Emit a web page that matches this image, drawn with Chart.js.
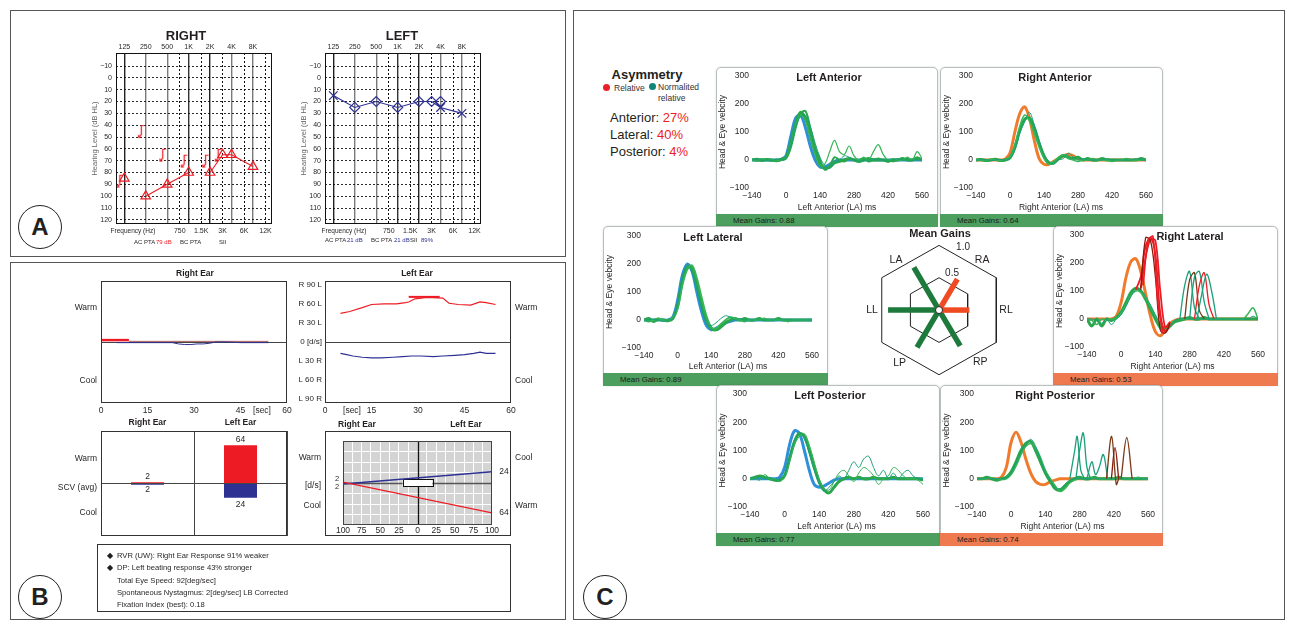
<!DOCTYPE html>
<html><head><meta charset="utf-8"><title>Audiometry, caloric and vHIT report</title>
<script src="https://cdn.jsdelivr.net/npm/chart.js@4.4.1/dist/chart.umd.min.js"></script>
<style>
html,body{margin:0;padding:0;background:#fff;}
body{position:relative;width:1290px;height:622px;overflow:hidden;font-family:'Liberation Sans',Arial,sans-serif;color:#231f20;}
.panel{position:absolute;border:1px solid #555;box-sizing:border-box;}
.circ{position:absolute;width:44px;height:44px;border:1.2px solid #222;border-radius:50%;box-sizing:border-box;font-weight:bold;font-size:24px;text-align:center;line-height:42px;}
.t{position:absolute;white-space:pre;line-height:1;}
canvas{position:absolute;}
.box{position:absolute;border:1px solid #b9bfbf;border-radius:5px;box-sizing:border-box;background:#fff;box-shadow:0 0 2px rgba(0,0,0,0.18);}
.gbar{position:absolute;height:13px;font-size:7.8px;line-height:13px;box-sizing:border-box;padding-left:17px;color:#1a1a1a;}
.frame{position:absolute;border:1px solid #333;box-sizing:border-box;}
.dot{position:absolute;width:7px;height:7px;border-radius:50%;}
</style></head><body>
<script>
const FONT="'Liberation Sans', Arial, sans-serif";

// ================= DATA =================
// --- Panel A: audiograms ---
const freqMain=[125,250,500,1000,2000,4000,8000];
const freqMainLabels=['125','250','500','1K','2K','4K','8K'];
const freqHalf=[750,1500,3000,6000,12000];
const freqHalfLabels=['750','1.5K','3K','6K','12K'];
const dbTicks=[-10,0,10,20,30,40,50,60,70,80,90,100,110,120];
const rightAcFreq=[125,250,500,1000,2000,3000,4000,8000];
const rightAcDb=[85,100,90,80,80,65,65,75];
const rightAcBreaks=[0,3];           // segments not connected (after point index)
const rightBcFreq=[125,250,500,1000,2000,3000];
const rightBcDb=[87,45,65,70,70,65];
const leftAcFreq=[125,250,500,1000,2000,3000,4000,8000];
const leftAcDb=[15,25,20,25,20,20,25,30];
const leftBcFreq=[250,500,1000,2000,3000,4000];
const leftBcDb=[25,20,25,20,20,20];
const rightPta={ac:'79 dB',bc:'',sii:''};
const leftPta={ac:'21 dB',bc:'21 dB',sii:'89%'};

// --- Panel B: caloric test ---
const calTimeTicks=[0,15,30,45,60];
const calVelTicks=[90,60,30,0,-30,-60,-90];
const calVelLabels=['R 90 L','R 60 L','R 30 L','0 [d/s]','L 30 R','L 60 R','L 90 R'];
const rightEarWarmT=[0,3,6,9];
const rightEarWarmV=[3,3,3,3];
const rightEarWarmTailT=[9,20,30,40,54];
const rightEarWarmTailV=[1,1,1,1,1];
const rightEarCoolT=[5,8,12,16,20,23,25,27,29,31,33,35,37,40,45,50,54];
const rightEarCoolV=[-1,-1,-1,-1,-1,-1,-3,-4,-4,-3,-3,-2,0,0,-1,-1,-1];
const leftEarWarmT=[5,8,12,15,19,23,26,27,29,33,38,40,43,47,50,52,55];
const leftEarWarmV=[45,48,54,59,60,60,62,63,68,70,69,61,59,58,63,62,59];
const leftEarWarmPeakT=[27,37];
const leftEarWarmPeakV=[71,71];
const leftEarCoolT=[5,7,9,12,15,18,22,25,28,31,35,38,42,45,48,50,52,55];
const leftEarCoolV=[-18,-20,-22,-24,-25,-25,-24,-23,-22,-22,-23,-22,-21,-20,-18,-16,-18,-18];
const calEars=['Right Ear','Left Ear'];
const calWarm=[2,64];
const calCool=[2,24];
const butterflyTicks=[-100,-75,-50,-25,0,25,50,75,100];
const normalBoxX=[-20,20];
const normalBoxY=[-8,8];
const calSummary=[
 {bullet:true,text:'RVR (UW): Right Ear Response 91% weaker'},
 {bullet:true,text:'DP: Left beating response 43% stronger'},
 {bullet:false,text:'Total Eye Speed: 92[deg/sec]'},
 {bullet:false,text:'Spontaneous Nystagmus: 2[deg/sec] LB Corrected'},
 {bullet:false,text:'Fixation Index (best): 0.18'}];

// --- Panel C: vHIT ---
const asymLabels=['Anterior','Lateral','Posterior'];
const asymValues=[27,40,4];
const meanGainLabels=['LA','RA','RL','RP','LP','LL'];
const meanGainValues=[0.88,0.64,0.53,0.74,0.77,0.89];
const gainRings=[0.5,1.0];
const vhitXTicks=[-140,0,140,280,420,560];
const vhitYTicks=[-100,0,100,200,300];
const vhitT=[-140,-120,-100,-80,-60,-40,-20,0,20,40,60,80,100,120,140,160,180,200,220,240,260,280,300,320,340,360,380,400,420,440,460,480,500,520,540,560];
// Left Anterior
const laHead=[0,0,0,0,0,0,2,15,85,150,160,115,50,0,-25,-25,-15,-5,0,0,0,0,0,0,0,0,0,0,0,0,0,0,0,0,0,0];
const laEye1=[0,3,-2,2,0,-3,2,10,60,130,170,150,90,30,-15,-30,-25,-10,-5,0,5,0,-5,0,5,0,0,0,-5,0,0,5,0,0,5,0];
const laEye2=[2,-3,3,0,-2,2,0,5,45,115,165,175,115,45,0,-35,-20,10,0,-5,5,0,0,5,-5,0,5,0,0,-5,0,0,5,0,10,0];
const laEye3=[0,0,4,-3,2,0,-2,8,55,125,160,140,80,20,-20,-15,30,70,30,20,50,15,0,10,0,30,55,20,0,5,0,0,10,0,30,5];
const laEye4=[0,2,0,-2,0,2,0,6,50,120,155,160,120,60,10,-20,-30,-10,0,15,10,0,-5,0,0,5,0,0,0,0,5,0,0,0,0,0];
// Right Anterior
const raHead=[0,0,0,0,0,0,3,25,100,165,190,150,70,5,-15,-15,-5,5,15,20,15,5,0,0,0,0,0,0,0,0,0,0,0,0,0,0];
const raEye1=[0,2,-2,0,3,-2,0,8,45,105,145,150,115,60,15,-10,-10,5,15,10,5,10,0,5,0,0,5,0,0,0,0,0,0,0,5,0];
const raEye2=[3,-2,0,2,0,-3,2,10,55,120,160,140,95,45,5,-15,-5,10,20,5,0,-5,0,0,5,0,0,0,-5,0,0,5,0,0,0,0];
const raEye3=[0,0,2,-2,0,2,0,5,35,95,135,170,125,70,20,-5,-15,0,5,25,10,0,5,0,0,0,0,5,0,0,0,0,0,5,0,0];
// Left Lateral
const llHead=[0,0,0,0,0,0,10,70,160,200,175,100,30,-20,-35,-30,-20,-10,-5,0,0,0,0,0,0,0,0,0,0,0,0,0,0,0,0,0];
const llEye1=[0,5,-5,3,0,-3,5,50,140,190,185,130,60,0,-30,-35,-25,-10,0,5,0,5,0,0,5,0,0,0,5,0,0,0,0,0,0,0];
const llEye2=[0,-5,0,5,-2,0,8,40,125,180,195,150,80,15,-25,-30,-15,0,10,5,0,-5,0,0,0,5,0,0,0,0,-5,0,0,0,0,0];
const llEye3=[0,0,3,0,-5,0,5,55,150,195,170,110,40,-10,-20,-10,5,15,10,0,5,0,0,0,0,0,0,0,0,0,0,0,0,0,0,0];
// Right Lateral
const rlHead=[0,0,0,0,0,0,10,60,150,205,215,170,90,10,-45,-60,-40,-15,-5,0,0,0,0,0,0,0,0,0,0,0,0,0,0,0,0,0];
const rlEye1=[0,-25,0,-25,0,-5,5,25,60,95,110,100,70,35,0,-30,-40,-25,-10,-5,0,5,0,0,5,0,0,0,0,0,0,0,0,0,0,0];
const rlEye2=[0,-5,-20,0,-5,0,3,20,50,85,100,95,75,45,10,-20,-35,-20,-5,0,0,0,0,0,0,0,0,0,0,0,0,0,0,20,40,0];
const rlEye3=[0,0,-5,-15,0,-20,0,15,45,80,105,105,80,50,15,-15,-30,-20,-5,0,5,0,0,0,0,0,0,0,0,0,0,0,0,0,10,0];
const rlSacA=[[60,105],[80,150],[100,260],[120,290],[140,230],[160,20],[180,-45],[200,-20]];
const rlSacB=[[80,110],[100,220],[120,285],[140,280],[160,100],[180,-30],[200,-10]];
const rlSacC=[[80,105],[100,290],[120,280],[140,150],[160,-40],[180,-50],[200,-15]];
const rlSacD=[[90,120],[110,280],[130,295],[150,60],[170,-50]];
const rlSac2A=[[240,0],[260,120],[280,170],[300,40],[320,0]];
const rlSac2B=[[260,0],[280,140],[300,165],[320,30],[340,0]];
const rlSac2C=[[280,0],[300,150],[320,170],[340,60],[360,0]];
const rlSac2D=[[300,0],[320,120],[340,165],[360,50],[380,0]];
const rlSac2E=[[310,0],[330,90],[350,160],[370,100],[390,0]];
// Left Posterior
const lpHead=[0,0,0,0,0,0,5,40,120,170,160,100,30,-20,-30,-25,-15,-5,0,0,0,0,0,0,0,0,0,0,0,0,0,0,0,0,0,0];
const lpEye1=[0,5,10,5,0,-5,-5,10,70,130,160,150,100,40,-10,-40,-50,-30,-10,0,5,0,5,0,0,5,0,0,0,5,0,0,0,0,0,-5];
const lpEye2=[0,0,-5,15,0,0,-10,5,60,120,150,160,120,60,0,-35,-40,-10,20,30,10,-10,20,40,30,10,-20,0,10,40,30,10,0,0,-5,-20];
const lpEye3=[5,0,5,0,5,-5,0,15,80,140,165,140,90,30,-20,-45,-30,-10,10,0,30,60,40,70,80,40,10,30,0,20,0,20,30,10,0,0];
// Right Posterior
const rpHead=[0,0,0,0,0,5,40,130,165,130,70,20,-10,-20,-20,-10,-5,0,0,0,0,0,0,0,0,0,0,0,0,0,0,0,0,0,0,0];
const rpEye1=[0,0,5,0,-5,0,5,25,60,100,125,132,100,60,20,-10,-35,-40,-25,-10,0,5,0,0,5,0,0,0,0,5,0,0,0,0,0,0];
const rpEye2=[2,-2,0,3,0,-3,0,15,45,85,115,125,110,75,30,0,-25,-45,-35,-15,-5,0,0,5,0,0,0,0,0,0,0,0,0,5,0,0];
const rpEye3=[0,0,0,0,0,0,3,20,55,95,120,140,115,70,25,-5,-30,-35,-20,-5,0,0,0,0,0,0,0,0,0,0,0,0,0,0,0,0];
const rpSacA=[[240,0],[260,100],[270,150],[285,30],[300,0]];
const rpSacB=[[265,0],[280,100],[295,162],[310,40],[325,0]];
const rpSacC=[[310,0],[330,60],[345,15],[360,40],[377,86],[395,0]];
const rpSacD=[[390,0],[411,150],[430,-20],[440,0]];
const rpSacE=[[410,0],[425,110],[440,0]];
const rpSacF=[[450,0],[473,146],[495,0]];

// ================= HELPERS =================
Chart.defaults.font.family=FONT;
Chart.defaults.color='#231f20';
Chart.defaults.animation=false;
Chart.defaults.responsive=false;
Chart.defaults.events=[];
Chart.defaults.plugins.legend.display=false;
Chart.defaults.plugins.tooltip.enabled=false;

const RED='#ed1c24', NAVY='#2e3192';
function mk(x,y,w,h,cfg){const c=document.createElement('canvas');c.width=w;c.height=h;c.style.left=x+'px';c.style.top=y+'px';c.style.width=w+'px';c.style.height=h+'px';document.body.appendChild(c);cfg.options=cfg.options||{};cfg.options.devicePixelRatio=1;return new Chart(c,cfg);}
function T(text,x,y,o={}){const d=document.createElement('div');d.className='t';d.textContent=text;const s=d.style;s.fontSize=(o.size||9)+'px';if(o.bold)s.fontWeight='bold';s.color=o.color||'#231f20';s.left=x+'px';s.top=y+'px';const a=o.a||'c';let tr=a==='c'?'translate(-50%,-50%)':(a==='l'?'translate(0,-50%)':'translate(-100%,-50%)');if(o.rot)tr+=' rotate('+o.rot+'deg)';s.transform=tr;document.body.appendChild(d);return d;}
function div(cls,x,y,w,h,extra){const d=document.createElement('div');d.className=cls;Object.assign(d.style,{left:x+'px',top:y+'px',width:w+'px',height:h+'px'},extra||{});document.body.appendChild(d);return d;}
function pts(xs,ys){return xs.map((v,i)=>({x:v,y:ys[i]}));}
function frameP(color,width){return {id:'frame',afterDatasetsDraw(c){const r=c.chartArea,x=c.ctx;x.save();x.strokeStyle=color;x.lineWidth=width;const l=Math.round(r.left),t=Math.round(r.top);x.strokeRect(l+0.5,t+0.5,Math.round(r.right)-l-1,Math.round(r.bottom)-t-1);x.restore();}};}
function bgP(color){return {id:'bg',beforeDraw(c){const r=c.chartArea,x=c.ctx;x.save();x.fillStyle=color;x.fillRect(r.left,r.top,r.right-r.left,r.bottom-r.top);x.restore();}};}
function marksP(items){return {id:'marks',afterDatasetsDraw(c){const x=c.ctx,xs=c.scales.x,ys=c.scales.y;x.save();items.forEach(it=>{x.font=(it.bold?'bold ':'')+(it.size||9)+'px '+FONT;x.fillStyle=it.color||'#231f20';x.textAlign='center';x.textBaseline='middle';x.fillText(it.text,xs.getPixelForValue(it.x)+(it.dx||0),ys.getPixelForValue(it.y)+(it.dy||0));});x.restore();}};}
function fixedTicks(arr){return s=>{s.ticks=arr.map(v=>({value:v}));};}
const minus=v=>v<0?'\u2212'+(-v):String(v);
const NOGRID={display:false,drawTicks:false};

// ================= PANELS / FRAMES =================
div('panel',10,10,556,247);
div('panel',10,262,556,358);
div('panel',573,10,712,610);
[['A',18,205],['B',18,575],['C',583,575]].forEach(([t,x,y])=>{const d=div('circ',x,y,44,44);d.textContent=t;});

// ================= PANEL A =================
function bracketImg(color){const c=document.createElement('canvas');c.width=22;c.height=22;const g=c.getContext('2d');g.strokeStyle=color;g.lineWidth=1.2;g.beginPath();g.moveTo(9.5,5.5);g.lineTo(6.5,5.5);g.lineTo(6.5,14.5);g.lineTo(3.8,17.2);g.stroke();g.beginPath();g.moveTo(3.8,14.8);g.lineTo(3.8,17.2);g.lineTo(6.2,17.2);g.stroke();return c;}
const mainGridColors=['#222','#7a7a7a','#7a7a7a','#333','#222','#7a7a7a','#7a7a7a'];
function audioScales(){return {
 x:{type:'logarithmic',position:'top',min:95.5,max:14800,afterBuildTicks:fixedTicks(freqMain),
   ticks:{callback:(v,i)=>freqMainLabels[i],font:{size:7},color:'#231f20',padding:2,maxRotation:0,autoSkip:false},
   grid:{color:c=>mainGridColors[c.index]||'#333',lineWidth:1.4,drawTicks:false},border:{display:false},afterFit:s=>{s.height=13;}},
 x2:{type:'logarithmic',position:'bottom',min:95.5,max:14800,afterBuildTicks:fixedTicks(freqHalf),
   ticks:{callback:(v,i)=>freqHalfLabels[i],font:{size:7},color:'#231f20',padding:3,maxRotation:0,autoSkip:false},
   grid:{color:'#111',lineWidth:1,drawTicks:false},border:{display:false,dash:[2,2]},afterFit:s=>{s.height=16;}},
 y:{min:-21,max:123.5,reverse:true,afterBuildTicks:fixedTicks(dbTicks),
   ticks:{callback:minus,font:{size:7},color:'#231f20',padding:4,autoSkip:false},
   grid:{color:'#111',lineWidth:0.9,drawTicks:false},border:{display:false,dash:[2,2]},
   title:{display:true,text:'Hearing Level (dB HL)',font:{size:7.5},color:'#666',padding:0},afterFit:s=>{s.width=26;}}};}
// RIGHT
mk(70,40,215,200,{type:'scatter',data:{datasets:[
 {data:pts(rightAcFreq,rightAcDb),showLine:true,borderColor:RED,borderWidth:1.1,pointStyle:'triangle',pointRadius:5.5,pointBorderColor:RED,pointBackgroundColor:'rgba(255,255,255,0)',pointBorderWidth:1.2,
  segment:{borderColor:c=>rightAcBreaks.includes(c.p0DataIndex)?'rgba(0,0,0,0)':RED}},
 {data:pts(rightBcFreq,rightBcDb),showLine:false,pointStyle:bracketImg(RED),pointRadius:8}]},
 options:{layout:{padding:{left:20,right:13,top:0,bottom:0}},scales:audioScales()},plugins:[frameP('#111',1)]});
// LEFT
mk(279,40,215,200,{type:'scatter',data:{datasets:[
 {data:pts(leftBcFreq,leftBcDb),showLine:false,pointStyle:'rectRot',pointRadius:5,pointBorderColor:NAVY,pointBackgroundColor:'rgba(255,255,255,0)',pointBorderWidth:1.2},
 {data:pts(leftAcFreq,leftAcDb),showLine:true,borderColor:NAVY,borderWidth:1.1,pointStyle:'crossRot',pointRadius:leftAcFreq.map(f=>leftBcFreq.includes(f)&&f<4000?0:6),pointBorderColor:NAVY,pointBorderWidth:1.3}]},
 options:{layout:{padding:{left:20,right:13,top:0,bottom:0}},scales:audioScales()},plugins:[frameP('#111',1)]});
T('RIGHT',186,35,{size:13,bold:true});
T('LEFT',402,35,{size:13,bold:true});
T('Frequency (Hz)',133,231,{size:6.5});
T('Frequency (Hz)',344,231,{size:6.5});
function ptaLine(x0,y,p,col){T('AC PTA',x0,y,{size:6,a:'l'});if(p.ac)T(p.ac,x0+22,y,{size:6,a:'l',color:col});T('BC PTA',x0+46,y,{size:6,a:'l'});if(p.bc)T(p.bc,x0+69,y,{size:6,a:'l',color:col});T('SII',x0+85,y,{size:6,a:'l'});if(p.sii)T(p.sii,x0+96,y,{size:6,a:'l',color:col});}
ptaLine(134,242,rightPta,RED);
ptaLine(325,240,leftPta,NAVY);

// ================= PANEL B =================
function L(ts,vs,color,w){return {data:pts(ts,vs),showLine:true,borderColor:color,borderWidth:w,pointRadius:0,tension:0};}
const zeroGrid=c=>(c.tick&&c.tick.value===0)?'#444':'rgba(0,0,0,0)';
// Right ear time course
mk(95,268,200,150,{type:'scatter',data:{datasets:[
 L(rightEarWarmT,rightEarWarmV,RED,2.5),L(rightEarCoolT,rightEarCoolV,NAVY,1),L(rightEarWarmTailT,rightEarWarmTailV,'#a85a55',1)]},
 options:{layout:{padding:{left:6,right:8,top:13,bottom:0}},scales:{
  x:{min:0,max:60,afterBuildTicks:fixedTicks(calTimeTicks),ticks:{font:{size:8.5},color:'#231f20',padding:3,maxRotation:0,autoSkip:false},grid:NOGRID,border:{display:false},afterFit:s=>{s.height=15;}},
  y:{min:-96,max:96,afterBuildTicks:fixedTicks([0]),ticks:{display:false},grid:{color:zeroGrid,drawTicks:false},border:{display:false},afterFit:s=>{s.width=0;}}}},
 plugins:[frameP('#333',1)]});
// Left ear time course
mk(285,268,235,150,{type:'scatter',data:{datasets:[
 L(leftEarWarmPeakT,leftEarWarmPeakV,RED,2),L(leftEarWarmT,leftEarWarmV,RED,1.2),L(leftEarCoolT,leftEarCoolV,NAVY,1.2)]},
 options:{layout:{padding:{left:0,right:9,top:13,bottom:0}},scales:{
  x:{min:0,max:60,afterBuildTicks:fixedTicks(calTimeTicks),ticks:{font:{size:8.5},color:'#231f20',padding:3,maxRotation:0,autoSkip:false},grid:NOGRID,border:{display:false},afterFit:s=>{s.height=15;}},
  y:{min:-96,max:96,afterBuildTicks:fixedTicks(calVelTicks),ticks:{callback:(v,i)=>calVelLabels[i],font:{size:8},color:'#231f20',padding:3,autoSkip:false},grid:{color:zeroGrid,drawTicks:false},border:{display:false},afterFit:s=>{s.width=40;}}}},
 plugins:[frameP('#333',1)]});
T('Right Ear',195,273,{size:8.5,bold:true});
T('Left Ear',417,273,{size:8.5,bold:true});
T('[sec]',262,410,{size:8.5});
T('[sec]',352,410,{size:8.5});
T('Warm',97,307,{size:8.5,a:'r'});T('Cool',97,380,{size:8.5,a:'r'});
T('Warm',515,307,{size:8.5,a:'l'});T('Cool',515,380,{size:8.5,a:'l'});

// SCV bar chart
mk(95,415,200,128,{type:'bar',data:{labels:calEars,datasets:[
 {data:calWarm,backgroundColor:RED,barPercentage:0.355,categoryPercentage:1},
 {data:calCool.map(v=>-v),backgroundColor:NAVY,barPercentage:0.355,categoryPercentage:1}]},
 options:{layout:{padding:{left:6,right:8,top:0,bottom:7}},scales:{
  x:{position:'top',stacked:true,ticks:{font:{size:8.5,weight:'bold'},color:'#231f20',padding:3},grid:{offset:true,color:'#444',drawTicks:false},border:{display:false},afterFit:s=>{s.height=16;}},
  y:{stacked:true,min:-88,max:88,afterBuildTicks:fixedTicks([0]),ticks:{display:false},grid:{color:zeroGrid,drawTicks:false},border:{display:false},afterFit:s=>{s.width=0;}}}},
 plugins:[frameP('#333',1),marksP([
  {x:0,y:calWarm[0],text:String(calWarm[0]),dy:-6,size:8.5},
  {x:0,y:-calCool[0],text:String(calCool[0]),dy:5,size:8.5},
  {x:1,y:calWarm[1],text:String(calWarm[1]),dy:-6,size:8.5},
  {x:1,y:-calCool[1],text:String(calCool[1]),dy:7,size:8.5}])]});
T('Warm',97,458,{size:8.5,a:'r'});T('SCV (avg)',97,487,{size:8.5,a:'r'});T('Cool',97,512,{size:8.5,a:'r'});

// Butterfly chart
div('frame',325,431,186,105);
const bfGrid=[];butterflyTicks.forEach((v,i)=>{bfGrid.push(v);if(i<butterflyTicks.length-1)bfGrid.push((v+butterflyTicks[i+1])/2);});
const bfYGrid=[];for(let i=0;i<=8;i++)bfYGrid.push(-90+i*22.5);
const notZero=c=>(c.tick&&c.tick.value===0)?'rgba(0,0,0,0)':'#fff';
mk(326,432,184,103,{type:'scatter',data:{datasets:[
 {data:[{x:-100,y:calWarm[0]},{x:100,y:-calWarm[1]}],showLine:true,borderColor:RED,borderWidth:1.4,pointRadius:0},
 {data:[{x:-100,y:-calCool[0]},{x:100,y:calCool[1]}],showLine:true,borderColor:NAVY,borderWidth:1.4,pointRadius:0}]},
 options:{layout:{padding:{left:17,right:18,top:9,bottom:0}},scales:{
  x:{min:-100,max:100,afterBuildTicks:fixedTicks(bfGrid),ticks:{callback:v=>butterflyTicks.includes(v)?String(Math.abs(v)):'',font:{size:8.5},color:'#231f20',padding:1,maxRotation:0,autoSkip:false},
   grid:{color:notZero,lineWidth:1,drawTicks:false},border:{display:false},afterFit:s=>{s.height=10;}},
  y:{min:-90,max:90,afterBuildTicks:fixedTicks(bfYGrid),ticks:{display:false},grid:{color:notZero,lineWidth:1,drawTicks:false},border:{display:false},afterFit:s=>{s.width=0;}}}},
 plugins:[bgP('#d4d4d4'),
  {id:'axes0',beforeDatasetsDraw(c){const xs=c.scales.x,ys=c.scales.y,x=c.ctx,a=c.chartArea;const px=Math.round(xs.getPixelForValue(0))+0.5,py=Math.round(ys.getPixelForValue(0))+0.5;x.save();x.lineWidth=1.3;x.strokeStyle='#555';x.beginPath();x.moveTo(a.left,py);x.lineTo(a.right,py);x.stroke();x.strokeStyle='#111';x.beginPath();x.moveTo(px,a.top);x.lineTo(px,a.bottom);x.stroke();x.restore();}},
  {id:'normbox',beforeDatasetsDraw(c){const xs=c.scales.x,ys=c.scales.y,x=c.ctx;const l=xs.getPixelForValue(normalBoxX[0]),r=xs.getPixelForValue(normalBoxX[1]),t=ys.getPixelForValue(normalBoxY[1]),b=ys.getPixelForValue(normalBoxY[0]);x.save();x.fillStyle='#fff';x.fillRect(l,t,r-l,b-t);x.strokeStyle='#111';x.lineWidth=1;x.strokeRect(Math.round(l)+0.5,Math.round(t)+0.5,Math.round(r-l),Math.round(b-t));x.restore();}},
  frameP('#444',1),
  marksP([{x:-100,y:calWarm[0],text:String(calWarm[0]),dx:-6,dy:-3,size:7.5},{x:-100,y:-calCool[0],text:String(calCool[0]),dx:-6,dy:3,size:7.5},
   {x:100,y:calCool[1],text:String(calCool[1]),dx:12,size:8.5},{x:100,y:-calWarm[1],text:String(calWarm[1]),dx:12,size:8.5}])]});
T('Right Ear',357,424,{size:8.5,bold:true});T('Left Ear',466,424,{size:8.5,bold:true});
T('Warm',321,457,{size:8.5,a:'r'});T('[d/s]',321,485,{size:8.5,a:'r'});T('Cool',321,505,{size:8.5,a:'r'});
T('Cool',515,457,{size:8.5,a:'l'});T('Warm',515,505,{size:8.5,a:'l'});

// Summary text
div('frame',97,544,414,68);
calSummary.forEach((r,i)=>{const y=556+i*12.3;if(r.bullet)T('\u25C6',110,y,{size:7.5});T(r.text,117,y,{size:7.6,a:'l'});});

// ================= PANEL C =================
T('Asymmetry',647,74,{size:13,bold:true});
div('dot',603,84,7,7,{background:'#e8202a'});T('Relative',614,88,{size:8.5,a:'l',color:'#333'});
div('dot',649,83,7,7,{background:'#11857a'});T('Normalited',658,87,{size:8.5,a:'l',color:'#333'});T('relative',658,98,{size:8.5,a:'l',color:'#333'});
asymLabels.forEach((lab,i)=>{const y=117+i*17;const d=T(lab+': ',610,y,{size:13,a:'l'});const w=d.getBoundingClientRect().width;T(asymValues[i]+'%',610+w,y,{size:13,a:'l',color:RED});});

const GREEN='#2aa64c',GREEN2='#35b556',TEAL='#1aa07a',BLUE='#2f8fd8',ORANGE='#f07b2c',DRED='#8a1a0a',BROWN='#7b3a16';
function tr(vals,color,w){return {pts:pts(vhitT,vals),color,w};}
function sac(pairs,color,w){return {pts:pairs.map(p=>({x:p[0],y:p[1]})),color,w:w||1.3};}
function vhit(box,area,title,titleX,xTitle,traces,gainIdx,barColor){
 const [bl,bt,bw,bh]=box;const ch=bh-13;
 div('box',bl,bt,bw,bh);
 mk(bl,bt,bw,ch,{type:'scatter',data:{datasets:traces.map(t=>({data:t.pts,borderColor:t.color,borderWidth:t.w,showLine:true,pointRadius:0,tension:0.35}))},
  options:{layout:{padding:{left:2,top:area[2],right:bw-area[1],bottom:0}},scales:{
   x:{type:'linear',min:-140,max:560,afterBuildTicks:fixedTicks(vhitXTicks),ticks:{callback:minus,font:{size:8.5},color:'#231f20',padding:3,maxRotation:0,autoSkip:false},grid:NOGRID,border:{display:false},
      title:{display:true,text:xTitle,font:{size:8.5},color:'#231f20',padding:{top:0,bottom:1}},afterFit:s=>{s.height=ch-area[3];}},
   y:{min:-100,max:300,afterBuildTicks:fixedTicks(vhitYTicks),ticks:{callback:minus,font:{size:8.5},color:'#231f20',padding:3,autoSkip:false},grid:NOGRID,border:{display:false},
      title:{display:true,text:'Head & Eye vebcity',font:{size:8.5},color:'#231f20',padding:0},afterFit:s=>{s.width=area[0]-2;}}}}});
 T(title,titleX,bt+area[2]+1,{size:11,bold:true});
 const g=div('gbar',bl,bt+bh-13,bw,13,{background:barColor});g.textContent='Mean Gains: '+meanGainValues[gainIdx].toFixed(2);
}
const GBAR='#4c9f5e',OBAR='#f07a4f';
vhit([716,67,222,160],[36,206,9,121],'Left Anterior',829,'Left Anterior (LA) ms',
 [tr(laEye4,TEAL,1),tr(laEye3,GREEN2,1.2),tr(laEye2,GREEN,2),tr(laEye1,GREEN,3),tr(laHead,BLUE,3)],0,GBAR);
vhit([940,67,223,160],[36,206,9,121],'Right Anterior',1055,'Right Anterior (LA) ms',
 [tr(raEye3,TEAL,1),tr(raEye2,GREEN2,1.5),tr(raEye1,GREEN,3),tr(raHead,ORANGE,3)],1,GBAR);
vhit([603,226,225,160],[41,209,10,122],'Left Lateral',713,'Left Anterior (LA) ms',
 [tr(llEye3,TEAL,1),tr(llEye2,GREEN2,2),tr(llEye1,GREEN,3),tr(llHead,BLUE,3)],5,GBAR);
vhit([1053,226,225,160],[34,205,9,121],'Right Lateral',1190,'Right Anterior (LA) ms',
 [sac(rlSac2E,TEAL),sac(rlSac2D,RED),sac(rlSac2C,TEAL),sac(rlSac2B,BROWN),sac(rlSac2A,TEAL),
  sac(rlSacD,RED,1.6),sac(rlSacC,DRED,1.3),sac(rlSacB,RED,1.8),sac(rlSacA,RED,1.8),
  tr(rlEye3,TEAL,1),tr(rlEye2,GREEN2,1.5),tr(rlEye1,GREEN,3),tr(rlHead,ORANGE,3)],2,OBAR);
vhit([716,385,224,161],[34,207,9,122],'Left Posterior',830,'Left Anterior (LA) ms',
 [tr(lpEye3,TEAL,1),tr(lpEye2,GREEN2,1),tr(lpEye1,GREEN,3),tr(lpHead,BLUE,3)],4,GBAR);
vhit([940,385,223,161],[37,208,9,122],'Right Posterior',1055,'Right Anterior (LA) ms',
 [sac(rpSacF,BROWN),sac(rpSacE,DRED),sac(rpSacD,BROWN),sac(rpSacC,TEAL),sac(rpSacB,TEAL),sac(rpSacA,TEAL),
  tr(rpEye3,TEAL,1),tr(rpEye2,GREEN2,1.5),tr(rpEye1,GREEN,3),tr(rpHead,ORANGE,3)],3,OBAR);

// Mean gains hexagon
T('Mean Gains',940,233,{size:11,bold:true});
const spokeAngles=[120,60,0,-60,-120,180];
const spokeColors=['#1e7a3c','#f04a23','#f04a23','#1e7a3c','#1e7a3c','#1e7a3c'];
const labelAngles=[130,50,0,-52,-126,180];
const rad=d=>d*Math.PI/180, C30=Math.cos(rad(30));
function hexPts(level){return [90,30,-30,-90,-150,150,90].map(a=>({x:level/C30*Math.cos(rad(a)),y:level/C30*Math.sin(rad(a))}));}
const hexSets=[{data:[{x:0,y:0}],showLine:false,pointRadius:3.5,pointStyle:'circle',pointBackgroundColor:'#fff',pointBorderColor:'#222',pointBorderWidth:1}];
meanGainValues.forEach((v,i)=>hexSets.push({data:[{x:0,y:0},{x:v*Math.cos(rad(spokeAngles[i])),y:v*Math.sin(rad(spokeAngles[i]))}],showLine:true,borderColor:spokeColors[i],borderWidth:5.5,borderCapStyle:'butt',pointRadius:0}));
gainRings.forEach(l=>hexSets.push({data:hexPts(l),showLine:true,borderColor:'#222',borderWidth:1,pointRadius:0}));
const hexMarks=meanGainLabels.map((lab,i)=>({x:1.17*Math.cos(rad(labelAngles[i])),y:1.17*Math.sin(rad(labelAngles[i])),text:lab,size:10.5}));
hexMarks.push({x:0,y:gainRings[1]/C30,text:gainRings[1].toFixed(1),dx:24,dy:2,size:10});
hexMarks.push({x:0,y:gainRings[0]/C30,text:gainRings[0].toFixed(1),dx:13,dy:-4,size:10});
mk(830,236,219,150,{type:'scatter',data:{datasets:hexSets},
 options:{layout:{padding:0},scales:{x:{display:false,min:-109/60,max:110/60},y:{display:false,min:-76/60,max:74/60}}},
 plugins:[marksP(hexMarks)]});
</script>
</body></html>
